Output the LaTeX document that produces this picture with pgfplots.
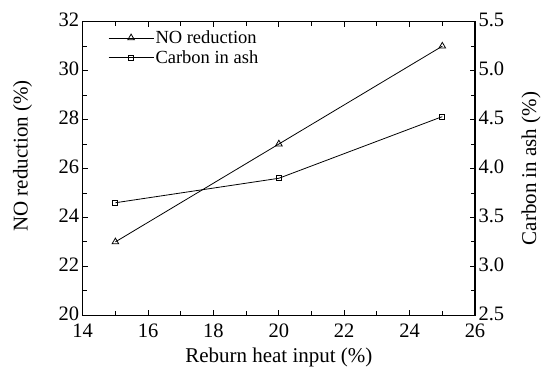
\documentclass[border=0pt]{standalone}
\usepackage{fontspec}
\setmainfont{Liberation Serif}
\usepackage{pgfplots}
\pgfplotsset{compat=1.18}
\begin{document}
\begin{tikzpicture}
\useasboundingbox (0,0) rectangle (542pt,374pt);
\pgfplotsset{
  every axis/.append style={
    at={(82.7pt,58.7pt)}, anchor=south west,
    scale only axis, width=392.3pt, height=293.6pt,
    /pgf/number format/assume math mode=true,
    major tick length=5.5pt, minor tick length=4pt,
    tick style={black, line width=0.9pt},
    axis line style={line width=1.2pt},
    label style={font=\fontsize{21}{25}\selectfont},
    tick label style={font=\fontsize{20.5}{24}\selectfont},
  },
}
\begin{axis}[
  xmin=14, xmax=26, ymin=20, ymax=32,
  xtick={14,16,...,26}, minor x tick num=1,
  ytick={20,22,...,32}, minor y tick num=1,
  ytick pos=left,
  xticklabel style={yshift=-5pt},
  yticklabel style={yshift=1.5pt},
  xlabel={Reburn heat input (\%)},
  xlabel style={at={(axis description cs:0.5,0)}, anchor=center, yshift=-42pt},
  ylabel={NO reduction (\%)},
  ylabel style={at={(axis description cs:0,0.543)}, anchor=center, inner sep=0pt, yshift=60pt},
  legend style={at={(axis description cs:0.0645,0.975)}, anchor=north west, draw=none, fill=none,
    inner sep=0pt, nodes={inner sep=1.5pt},
    font=\fontsize{18.5}{22}\selectfont, row sep=2.3pt},
  legend cell align=left,
  legend image code/.code={\draw[mark repeat=2,mark phase=2] plot coordinates {(0pt,0pt)(22.5pt,0pt)(45pt,0pt)};},
]
\addplot[black, line width=0.8pt, mark=triangle, mark size=3.8pt, mark options={solid, fill=white, line width=0.8pt}] coordinates {(15,23) (20,27) (25,31)};
\addlegendentry{NO reduction}
\addlegendimage{black, line width=0.8pt, mark=square, mark size=2.5pt, mark options={solid, fill=white, line width=0.8pt}}
\addlegendentry{Carbon in ash}
\end{axis}
\begin{axis}[
  xmin=14, xmax=26, ymin=2.5, ymax=5.5,
  axis x line=none,
  axis y line*=right,
  ytick={2.5,3,...,5.5}, minor y tick num=1,
  yticklabel style={yshift=1.5pt, /pgf/number format/.cd, fixed, fixed zerofill, precision=1},
  ylabel={Carbon in ash (\%)},
  ylabel style={at={(axis description cs:1,0.5)}, anchor=center, inner sep=0pt, yshift=-56pt},
]
\addplot[black, line width=0.8pt, mark=square, mark size=2.5pt, mark options={solid, fill=white, line width=0.8pt}] coordinates {(15,3.65) (20,3.90) (25,4.53)};
\end{axis}
\end{tikzpicture}
\end{document}
